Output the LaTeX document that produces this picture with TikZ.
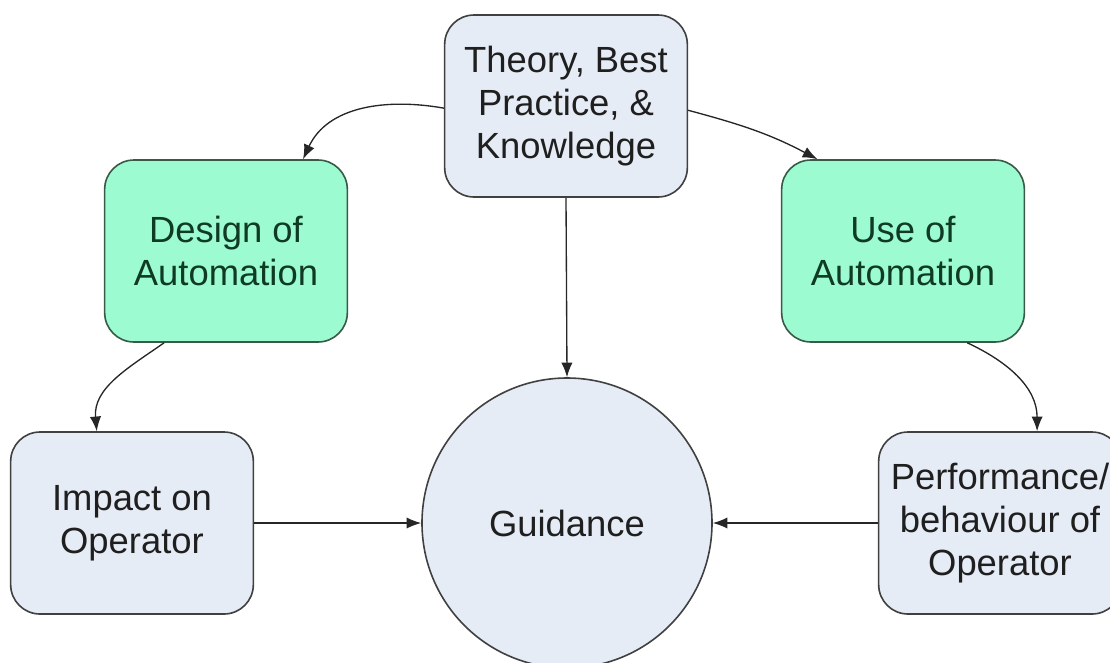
\documentclass[tikz,border=0pt]{standalone}
\usepackage{fontspec}
\setmainfont{Liberation Sans}
\usetikzlibrary{arrows.meta}
\definecolor{paleblue}{HTML}{E6ECF6}
\definecolor{mint}{HTML}{9CFBD0}
\definecolor{mintline}{HTML}{3A5A48}
\definecolor{minttext}{HTML}{0F3A24}
\tikzstyle{box}=[draw=black!75, fill=paleblue, rounded corners=22pt, line width=1.2pt, minimum width=182pt, minimum height=136.5pt, inner sep=0pt, align=center, text=black!88, font=\fontsize{27.3}{32.5}\selectfont]
\tikzstyle{greenbox}=[box, draw=mintline, fill=mint, text=minttext]
\tikzstyle{disc}=[circle, draw=black!75, fill=paleblue, line width=1.2pt, minimum size=217.5pt, inner sep=0pt, text=black!88, font=\fontsize{27.3}{32.5}\selectfont]
\tikzstyle{arr}=[-{Latex[length=11pt,width=8.5pt]}, line width=1pt, black!85]

\begin{document}
\begin{tikzpicture}[x=0.75pt, y=-0.75pt]
\useasboundingbox (0,0) rectangle (1110,662);
% Boxes
    \node[box] (theory) at (566,106) {Theory, Best\\Practice, \&\\Knowledge};
    \node[greenbox] (design) at (226,251) {Design of\\Automation};
    \node[greenbox] (use) at (903,251) {Use of\\Automation};
    \node[box] (impact) at (132,523) {Impact on\\Operator};
    \node[box] (perf) at (1000,523) {Performance/\\behaviour of\\Operator};
    \node[disc] (guid) at (567,523) {Guidance};
% Curved arrows
    \draw[arr] (theory.181) to[out=170, in=65] (design.50);
    \draw[arr] (theory.-2) to[out=-15, in=152] (use.133);
    \draw[arr] (design.236) to[out=215, in=95] (impact.111);
    \draw[arr] (use.-55) to[out=-25, in=90] (perf.68);
% Straight arrows into Guidance
    \draw[arr] (theory.south) -- (guid.north);
    \draw[arr] (impact) -- (guid);
    \draw[arr] (perf) -- (guid);
\end{tikzpicture}
\end{document}
